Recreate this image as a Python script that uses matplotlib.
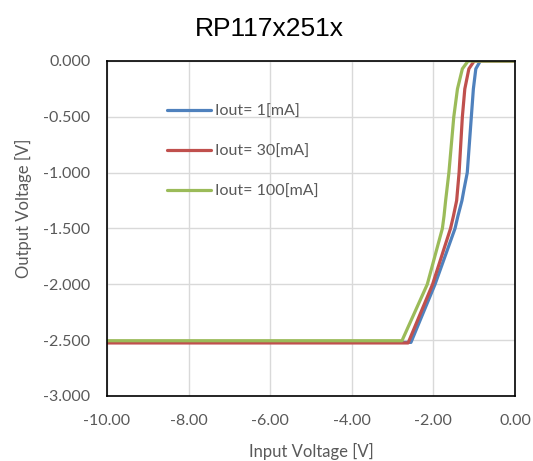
import matplotlib.pyplot as plt

# Input voltage [V] vs output voltage [V] for three load currents
vin_1 = [-10.0, -2.55, -1.96, -1.47, -1.40, -1.30, -1.25, -1.17, -1.07, -1.02, -0.96, -0.85, 0.0]
vout_1 = [-2.52, -2.52, -2.00, -1.50, -1.39, -1.25, -1.15, -1.00, -0.50, -0.25, -0.07, 0.0, 0.0]

vin_30 = [-10.0, -2.62, -2.02, -1.58, -1.51, -1.43, -1.37, -1.29, -1.23, -1.13, -1.00, 0.0]
vout_30 = [-2.525, -2.525, -2.00, -1.50, -1.39, -1.25, -1.00, -0.50, -0.25, -0.07, 0.0, 0.0]

vin_100 = [-10.0, -2.77, -2.15, -1.78, -1.74, -1.70, -1.62, -1.50, -1.41, -1.29, -1.15, 0.0]
vout_100 = [-2.505, -2.505, -2.00, -1.50, -1.39, -1.25, -1.00, -0.50, -0.25, -0.07, 0.0, 0.0]

labels = ["Iout= 1[mA]", "Iout= 30[mA]", "Iout= 100[mA]"]
colors = ["#4F81BD", "#C0504D", "#9BBB59"]

xticks = [-10, -8, -6, -4, -2, 0]
yticks = [0, -0.5, -1.0, -1.5, -2.0, -2.5, -3.0]

plt.rcParams['font.family'] = ['Lato', 'DejaVu Sans']
txt = '#595959'

fig = plt.figure(figsize=(5.33, 4.61), dpi=100)
ax = fig.add_axes([0.2008, 0.141, 0.7654, 0.7267])

for xs, ys, lab, c in zip([vin_1, vin_30, vin_100], [vout_1, vout_30, vout_100], labels, colors):
    ax.plot(xs, ys, color=c, lw=2.3, label=lab, solid_capstyle='round', solid_joinstyle='round')

ax.set_xlim(-10, 0)
ax.set_ylim(-3, 0)
ax.set_xticks(xticks)
ax.set_yticks(yticks)
ax.set_xticklabels(['%.2f' % v for v in xticks])
ax.set_yticklabels(['%.3f' % v for v in yticks])
ax.tick_params(length=0, labelsize=11.5, colors=txt)
ax.tick_params(axis='x', pad=13)
ax.tick_params(axis='y', pad=12)
ax.grid(color='#D9D9D9', lw=1)
ax.set_axisbelow(True)
for s in ax.spines.values():
    s.set_color('black')
    s.set_linewidth(1.2)

ax.set_xlabel('Input Voltage [V]', fontsize=12, color=txt)
ax.set_ylabel('Output Voltage [V]', fontsize=12, color=txt)
ax.xaxis.set_label_coords(0.5, -0.14)
ax.yaxis.set_label_coords(-0.185, 0.56)

fig.text(0.505, 0.937, 'RP117x251x', ha='center', va='center', fontsize=19,
         family='Liberation Sans', color='black')

ax.legend(loc='upper left', bbox_to_anchor=(0.127, 0.893), frameon=False,
          fontsize=11.5, labelcolor=txt, handlelength=2.75, handletextpad=0.25,
          labelspacing=1.6, borderpad=0)

plt.savefig('out.png', dpi=100)
